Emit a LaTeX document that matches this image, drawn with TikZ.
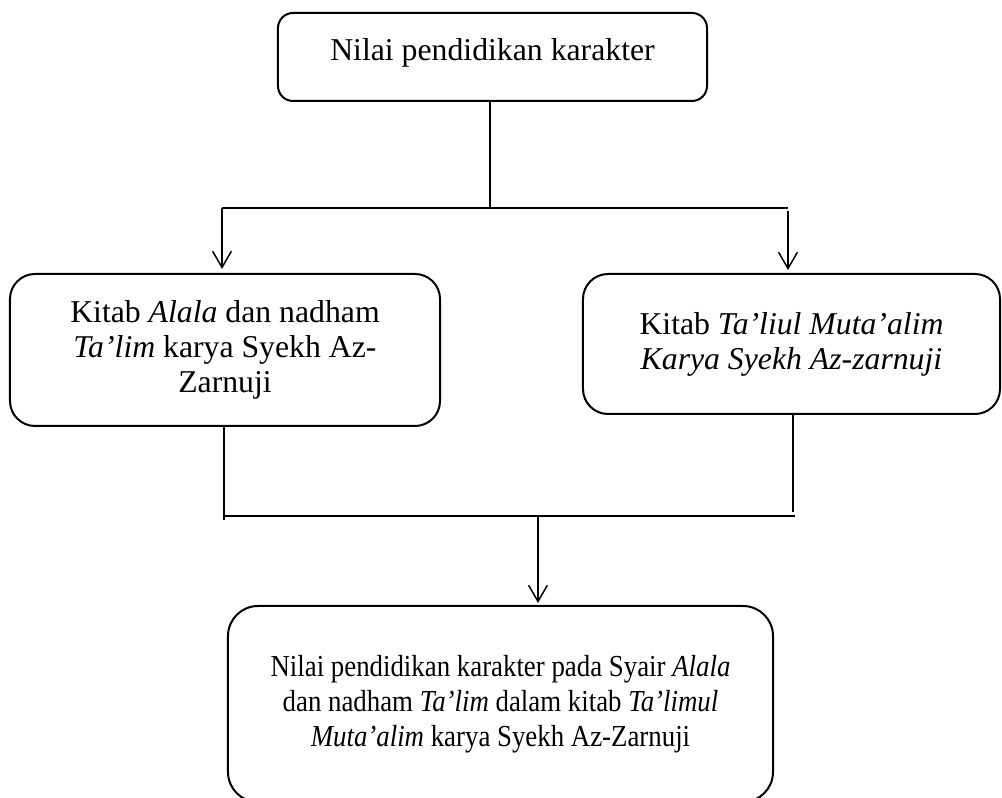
\documentclass[tikz,border=0pt]{standalone}
\usepackage{fontspec}
\setmainfont{Liberation Serif}
\newfontfamily\narrowserif{Liberation Serif}[FakeStretch=0.88,Ligatures=TeX]
\usepackage{tikz}
\usetikzlibrary{arrows.meta,positioning,calc}

\begin{document}
\begin{tikzpicture}[
  x=0.4pt,y=-0.4pt,
  every node/.style={font=\fontsize{12.7pt}{14pt}\selectfont},
  box/.style={draw=black,line width=0.8pt,rounded corners=10pt,align=center,inner sep=0pt},
  line/.style={line width=0.6pt},
  arrow/.style={line,-{Straight Barb[length=6.5pt,width=7.5pt]}}
]
\useasboundingbox (0,0) rectangle (1002,798);
\clip (0,0) rectangle (1002,798);

% boxes
\node[box,rounded corners=6pt,minimum width=171.6pt,minimum height=35.2pt,text depth=6pt] (nilai) at (492.5,57) {Nilai pendidikan karakter};
\node[box,minimum width=172pt,minimum height=60.8pt] (alala) at (225,350)
  {Kitab \textit{Alala} dan nadham\\ \textit{Ta'lim} karya Syekh Az-\\ Zarnuji};
\node[box,minimum width=166.8pt,minimum height=56pt] (taliul) at (791.5,344)
  {Kitab \textit{Ta'liul Muta'alim}\\ \textit{Karya Syekh Az-zarnuji}};
\node[box,rounded corners=12pt,minimum width=218pt,minimum height=78.4pt,
      font=\narrowserif\fontsize{12.2pt}{14pt}\selectfont] (hasil) at (500.5,704)
  {Nilai pendidikan karakter pada Syair \textit{Alala}\\ dan nadham \textit{Ta'lim} dalam kitab \textit{Ta'limul}\\ \textit{Muta'alim} karya Syekh Az-Zarnuji};

% branch points
\coordinate (split) at (490,208);
\coordinate (splitL) at (222,208);
\coordinate (splitR) at (788,208);
\coordinate (joinL) at (224,516);
\coordinate (joinR) at (795,516);
\coordinate (joinM) at (538,516);
\coordinate (endR) at (793,512);

% top connectors
\draw[line] (nilai.south -| split) -- (split);
\draw[line] (splitL) -- (splitR);
\draw[arrow,shorten >=1.6pt] (splitL) -- (splitL |- alala.north);
\draw[arrow,shorten >=1.2pt] ($(splitR)+(0,3)$) -- (splitR |- taliul.north);

% bottom connectors
\draw[line] (alala.south -| joinL) -- ($(joinL)+(0,4)$);
\draw[line] (taliul.south -| endR) -- (endR);
\draw[line] (joinL) -- (joinR);
\draw[arrow,shorten >=0.8pt] (joinM) -- (joinM |- hasil.north);
\end{tikzpicture}
\end{document}
